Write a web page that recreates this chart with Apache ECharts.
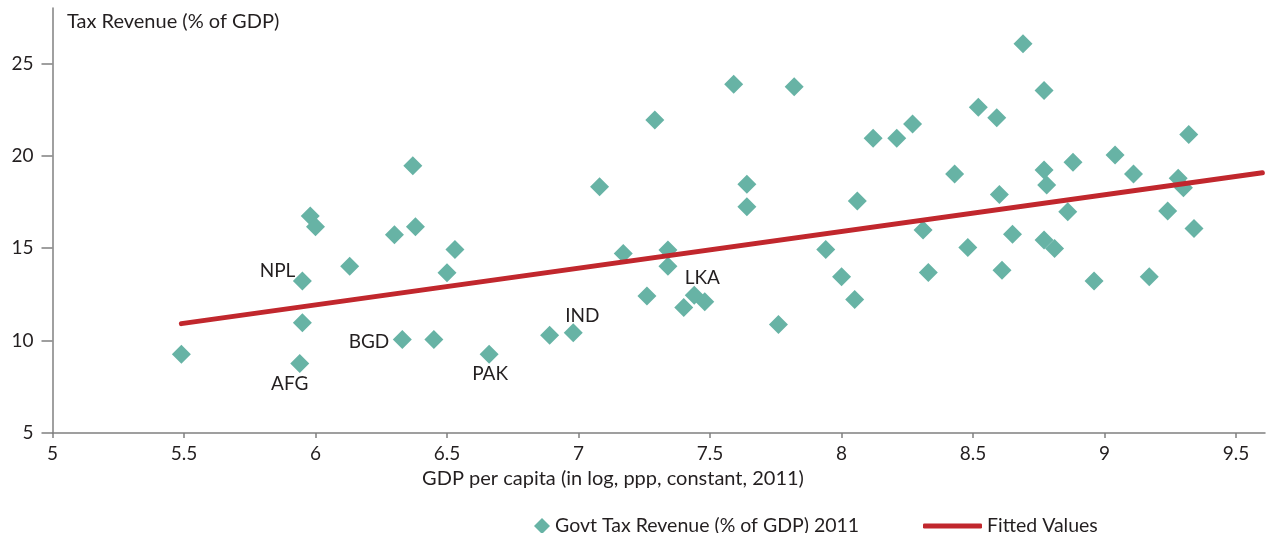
<!DOCTYPE html>
<html>
<head>
<meta charset="utf-8">
<script src="https://cdn.jsdelivr.net/npm/echarts@6/dist/echarts.min.js"></script>
<style>
  html, body { margin: 0; padding: 0; background: #fff; }
  #chart { width: 1267px; height: 533px; }
</style>
</head>
<body>
<div id="chart"></div>
<script>
// log GDP per capita (ppp, constant 2011) and tax revenue (% of GDP)
var gdpLog = [5.49, 5.94, 5.95, 5.95, 5.98, 6.00, 6.13, 6.30, 6.33, 6.37,
              6.38, 6.45, 6.50, 6.53, 6.66, 6.89, 6.98, 7.08, 7.17, 7.26,
              7.29, 7.34, 7.34, 7.40, 7.44, 7.48, 7.59, 7.64, 7.64, 7.76,
              7.82, 7.94, 8.00, 8.05, 8.06, 8.12, 8.21, 8.27, 8.31, 8.33,
              8.43, 8.48, 8.52, 8.59, 8.60, 8.61, 8.65, 8.69, 8.77, 8.77,
              8.78, 8.77, 8.81, 8.86, 8.88, 8.96, 9.04, 9.11, 9.17, 9.24,
              9.28, 9.30, 9.32, 9.34];
var taxRev = [9.26, 8.76, 10.96, 13.22, 16.74, 16.16, 14.03, 15.73, 10.06, 19.46,
              16.16, 10.06, 13.67, 14.93, 9.26, 10.29, 10.42, 18.33, 14.72, 12.42,
              21.94, 14.90, 14.03, 11.79, 12.46, 12.10, 23.87, 18.46, 17.24, 10.87,
              23.74, 14.93, 13.45, 12.23, 17.55, 20.95, 20.95, 21.72, 15.98, 13.69,
              19.01, 15.04, 22.63, 22.06, 17.91, 13.81, 15.75, 26.06, 23.53, 19.23,
              18.42, 15.44, 14.99, 16.97, 19.65, 13.22, 20.04, 19.01, 13.45, 17.01,
              18.78, 18.27, 21.16, 16.07];
var countries = ['', 'AFG', '', 'NPL', '', '', '', '', 'BGD', '',
                 '', '', '', '', 'PAK', '', 'IND', '', '', '',
                 '', '', '', '', 'LKA', '', '', '', '', ''];
var fitX = [5.49, 9.6];
var fitY = [10.92, 19.08];
var xTicks = [5, 5.5, 6, 6.5, 7, 7.5, 8, 8.5, 9, 9.5];
var yTicks = [5, 10, 15, 20, 25];

var FONT = 'Lato';
var TXT = '#231f20';
var AXIS = '#808080';

// label placement around the marker (style only)
var labelPlace = {
    AFG: { align: 'center', offset: [-10, 20] },
    NPL: { align: 'right', offset: [-7, -10] },
    BGD: { align: 'right', offset: [-13, 2] },
    PAK: { align: 'center', offset: [1, 20] },
    IND: { align: 'center', offset: [9, -17] },
    LKA: { align: 'center', offset: [8, -17] }
};

var scatterData = [];
for (var i = 0; i < gdpLog.length; i++) {
    var item = { value: [gdpLog[i], taxRev[i]] };
    var c = countries[i];
    if (c) {
        item.label = {
            show: true,
            formatter: c,
            position: 'inside',
            align: labelPlace[c].align,
            verticalAlign: 'middle',
            offset: labelPlace[c].offset,
            color: TXT,
            fontFamily: FONT,
            fontSize: 19
        };
    }
    scatterData.push(item);
}

var fitData = [];
for (var j = 0; j < fitX.length; j++) {
    fitData.push([fitX[j], fitY[j]]);
}

var option = {
    animation: false,
    backgroundColor: '#fff',
    grid: {
        left: 52.5, right: 2, top: 8, bottom: 100,
        outerBoundsMode: 'none'
    },
    xAxis: {
        type: 'value',
        min: 5,
        max: 9.61,
        splitLine: { show: false },
        axisLine: { lineStyle: { color: AXIS, width: 1.5 } },
        axisTick: { length: 5, customValues: xTicks, lineStyle: { color: AXIS, width: 1.5 } },
        axisLabel: {
            customValues: xTicks,
            margin: 11,
            color: TXT,
            fontFamily: FONT,
            fontSize: 19
        }
    },
    yAxis: {
        type: 'value',
        min: 5,
        max: 28,
        splitLine: { show: false },
        axisLine: { show: true, lineStyle: { color: AXIS, width: 1.5 } },
        axisTick: { show: true, length: 11, customValues: yTicks, lineStyle: { color: AXIS, width: 1.5 } },
        axisLabel: {
            customValues: yTicks,
            margin: 19,
            color: TXT,
            fontFamily: FONT,
            fontSize: 19
        }
    },
    legend: [{
        data: ['Govt Tax Revenue (% of GDP) 2011'],
        left: 529, top: 511,
        icon: 'diamond',
        itemWidth: 16, itemHeight: 16,
        textStyle: { color: TXT, fontFamily: FONT, fontSize: 19.5 }
    }, {
        data: ['Fitted Values'],
        left: 918, top: 511,
        icon: 'roundRect',
        itemWidth: 59, itemHeight: 5,
        textStyle: { color: TXT, fontFamily: FONT, fontSize: 19.5 }
    }],
    graphic: [{
        type: 'text',
        left: 67, top: 12,
        style: { text: 'Tax Revenue (% of GDP)', fill: TXT, font: '20px ' + FONT }
    }, {
        type: 'text',
        x: 613, y: 479,
        style: {
            text: 'GDP per capita (in log, ppp, constant, 2011)',
            fill: TXT, font: '20px ' + FONT,
            align: 'center', verticalAlign: 'middle'
        }
    }],
    series: [{
        name: 'Govt Tax Revenue (% of GDP) 2011',
        type: 'scatter',
        symbol: 'diamond',
        symbolSize: 19,
        itemStyle: { color: '#67b3a5', opacity: 1 },
        emphasis: { disabled: true },
        data: scatterData
    }, {
        name: 'Fitted Values',
        type: 'line',
        symbol: 'none',
        lineStyle: { color: '#c1272d', width: 5, cap: 'round' },
        itemStyle: { color: '#c1272d' },
        data: fitData
    }]
};

var myChart = echarts.init(document.getElementById('chart'));
myChart.setOption(option);
</script>
</body>
</html>
